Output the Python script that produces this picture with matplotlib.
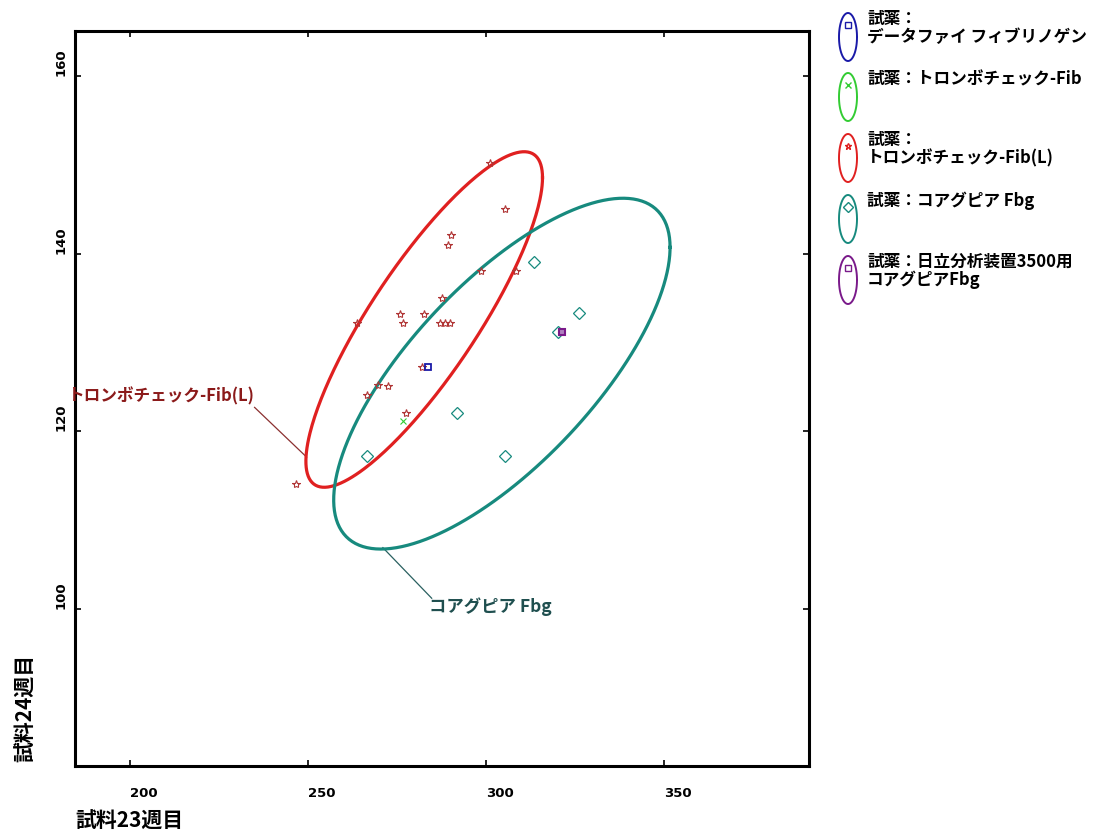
import numpy as np
import matplotlib
matplotlib.use("Agg")
import matplotlib.pyplot as plt

plt.rcParams['font.family'] = ['Noto Sans CJK JP', 'DejaVu Sans']

# ---- data ----
red_x = [301.1, 305.3, 290.2, 289.3, 298.6, 308.4, 287.6, 275.8, 282.6, 263.8,
         276.7, 287.1, 288.5, 289.9, 282.0, 269.7, 272.5, 266.6, 277.5, 246.6]
red_y = [150.2, 145.0, 142.1, 141.0, 138.1, 138.1, 135.0, 133.2, 133.2, 132.2,
         132.2, 132.2, 132.2, 132.2, 127.2, 125.2, 125.1, 124.1, 122.1, 114.1]
green_x = [276.7]
green_y = [121.2]
blue_x = [283.7]
blue_y = [127.2]
teal_x = [313.5, 326.1, 320.2, 291.9, 266.6, 305.3]
teal_y = [139.1, 133.3, 131.2, 122.1, 117.2, 117.2]
purple_x = [321.3]
purple_y = [131.2]

# ellipses: centre x, centre y, half extent x, half extent y, correlation
red_ell = [282.7, 132.6, 33.2, 18.9, 0.845]
teal_ell = [304.5, 126.5, 47.2, 19.76, 0.72]

x_ticks = [200, 250, 300, 350]
y_ticks = [100, 120, 140, 160]

legend_labels = ['試薬：\nデータファイ フィブリノゲン',
                 '試薬：トロンボチェック-Fib',
                 '試薬：\nトロンボチェック-Fib(L)',
                 '試薬：コアグピア Fbg',
                 '試薬：日立分析装置3500用\nコアグピアFbg']

c_blue = '#1a1aa8'
c_green = '#33cc33'
c_red = '#e02020'
c_star = '#b03535'
c_teal = '#178a7e'
c_purple = '#7a1a8a'


def ellipse_xy(p, n=300):
    cx, cy, sx, sy, rho = p
    t = np.linspace(0, 2 * np.pi, n)
    return cx + sx * np.cos(t), cy + sy * (rho * np.cos(t) + np.sqrt(1 - rho ** 2) * np.sin(t))


fig = plt.figure(figsize=(11.06, 8.31), dpi=100)
ax = fig.add_axes([0.0678, 0.0782, 0.6637, 0.8845])

ex, ey = ellipse_xy(red_ell)
ax.plot(ex, ey, color=c_red, lw=2.3, zorder=3)
ex, ey = ellipse_xy(teal_ell)
ax.plot(ex, ey, color=c_teal, lw=2.3, zorder=3)

ax.plot(red_x, red_y, ls='none', marker='*', ms=6, mfc='none', mec=c_star, mew=0.8, zorder=4)
ax.plot(green_x, green_y, ls='none', marker='x', ms=4, mec=c_green, mew=0.8, zorder=4)
ax.plot(teal_x, teal_y, ls='none', marker='D', ms=6, mfc='none', mec=c_teal, mew=0.9, zorder=4)
ax.plot(blue_x, blue_y, ls='none', marker='s', ms=5, mfc='none', mec=c_blue, mew=1.3, zorder=5)
ax.plot(purple_x, purple_y, ls='none', marker='s', ms=5, mfc='#b080c0', mec=c_purple, mew=1.5, zorder=5)

# leader lines + labels
ax.plot([249.7, 235.1], [117.1, 122.7], color='#8b3030', lw=0.9, clip_on=False)
ax.text(182.6, 123.9, 'トロンボチェック-Fib(L)', color='#8b1a1a', fontsize=12,
        fontweight='bold', ha='left', va='center', clip_on=False)
ax.plot([271.1, 284.8], [106.9, 101.2], color='#2a6060', lw=0.9)
ax.text(284.0, 100.2, 'コアグピア Fbg', color='#1f4f4f', fontsize=12.5,
        fontweight='bold', ha='left', va='center')

ax.set_xlim(184.7, 390.7)
ax.set_ylim(82.3, 165.1)
ax.set_xticks(x_ticks)
ax.set_yticks(y_ticks)
ax.set_xticklabels([str(v) for v in x_ticks], ha='left', fontsize=9.5, fontweight='bold',
                   family='DejaVu Sans')
ax.set_yticklabels([str(v) for v in y_ticks], rotation=90, va='bottom', fontsize=9.5,
                   fontweight='bold', family='DejaVu Sans')
ax.tick_params(direction='in', length=4, width=1.2, top=True, right=True)
ax.tick_params(axis='x', pad=15)
ax.tick_params(axis='y', pad=5)
for s in ax.spines.values():
    s.set_linewidth(2.2)

fig.text(75 / 1106, 1 - 821 / 831, '試料23週目', fontsize=15, fontweight='bold',
         ha='left', va='center')
fig.text(26 / 1106, 1 - 762 / 831, '試料24週目', fontsize=15, fontweight='bold',
         rotation=90, ha='center', va='bottom')

# legend drawn in pixel coordinates
lax = fig.add_axes([0, 0, 1, 1], zorder=10)
lax.set_xlim(0, 1106)
lax.set_ylim(831, 0)
lax.axis('off')
leg_colors = [c_blue, c_green, c_red, c_teal, c_purple]
leg_markers = ['s', 'x', '*', 'D', 's']
leg_y = [37, 97, 158, 219, 280]
for lab, col, mk, yc in zip(legend_labels, leg_colors, leg_markers, leg_y):
    t = np.linspace(0, 2 * np.pi, 100)
    lax.plot(848 + 9 * np.cos(t), yc + 24 * np.sin(t), color=col, lw=1.4)
    lax.plot([848], [yc - 12], marker=mk, ms=5, mfc='none', mec=col, mew=1)
    lax.text(867, yc - 27, lab, fontsize=12, fontweight='bold', ha='left', va='top',
             linespacing=1.0)

fig.savefig('out.png', dpi=100)
